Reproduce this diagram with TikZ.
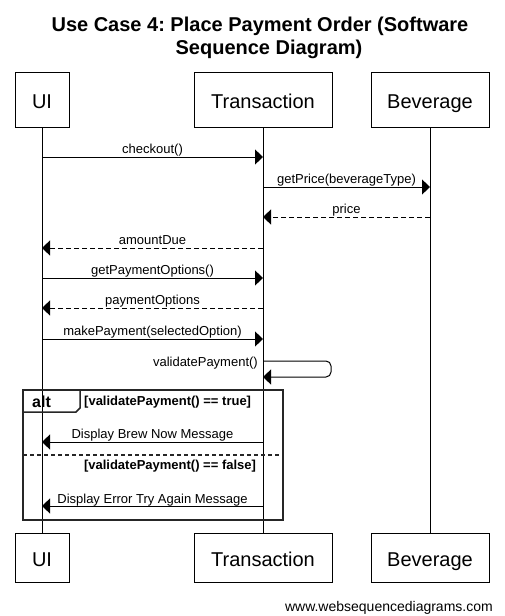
\documentclass[tikz,border=0pt]{standalone}
\usepackage{fontspec}
\setmainfont{Liberation Sans}
\usetikzlibrary{arrows.meta}
\frenchspacing
\begin{document}
\begin{tikzpicture}[x=1pt,y=-1pt,
  part/.style={draw, line width=1pt, inner sep=0pt, font=\fontsize{20}{24}\selectfont, text height=17pt, text depth=0pt},
  life/.style={line width=1pt},
  msg/.style={line width=1pt, -{Triangle[length=8pt,width=15pt]}},
  ret/.style={msg, dash pattern=on 5pt off 3pt},
  lbl/.style={font=\fontsize{13}{15}\selectfont, anchor=base, inner sep=0pt, yshift=4pt},
  guard/.style={font=\bfseries\fontsize{13}{15}\selectfont, inner sep=0pt},
  frame/.style={line width=1.5pt, draw=black!85},
  titlestyle/.style={font=\bfseries\fontsize{20}{24}\selectfont, anchor=base, inner sep=0pt}]
\useasboundingbox (0,0) rectangle (504,616);
\fill[white] (0,0) rectangle (504,616);

% title
\node[titlestyle] (t1) at (260,31) {Use Case 4: Place Payment Order (Software};
\node[titlestyle] (t2) at (269,54) {Sequence Diagram)};

% participants
\node[part, minimum width=54pt, minimum height=55pt] (uiT) at (42,99.5) {UI};
\node[part, minimum width=138pt, minimum height=55pt] (trT) at (263,99.5) {Transaction};
\node[part, minimum width=118pt, minimum height=55pt] (bvT) at (430,99.5) {Beverage};
\node[part, minimum width=54pt, minimum height=49pt] (uiB) at (42,557.5) {UI};
\node[part, minimum width=138pt, minimum height=49pt] (trB) at (263,557.5) {Transaction};
\node[part, minimum width=118pt, minimum height=49pt] (bvB) at (430,557.5) {Beverage};

% lifelines
\draw[life] (uiT.south) -- (uiB.north);
\draw[life] (trT.south) -- (trB.north);
\draw[life] (bvT.south) -- (bvB.north);

% messages
\draw[msg] (uiT |- 0,157) -- (trT |- 0,157) node[lbl, midway] {checkout()};
\draw[msg] (trT |- 0,187) -- (bvT |- 0,187) node[lbl, midway] {getPrice(beverageType)};
\draw[ret] (bvT |- 0,217) -- (trT |- 0,217) node[lbl, midway] {price};
\draw[ret] (trT |- 0,248) -- (uiT |- 0,248) node[lbl, midway] {amountDue};
\draw[msg] (uiT |- 0,278) -- (trT |- 0,278) node[lbl, midway] {getPaymentOptions()};
\draw[ret] (trT |- 0,308) -- (uiT |- 0,308) node[lbl, midway] {paymentOptions};
\draw[msg] (uiT |- 0,339) -- (trT |- 0,339) node[lbl, midway] {makePayment(selectedOption)};

% self message
\coordinate (s1) at (331,361);
\coordinate (s2) at (331,377);
\draw[msg, rounded corners=5pt] (trT |- s1) -- (s1) -- (s2) -- (trT |- s2);
\node[font=\fontsize{13}{15}\selectfont, anchor=base east, inner sep=0pt] (vp) at (258,366) {validatePayment()};

% alt frame
\draw[frame] (23,390) rectangle (283,520);
\draw[frame] (23,412) -- (76,412) -- (80,408) -- (80,390);
\node[font=\bfseries\fontsize{16}{18}\selectfont, anchor=base west, inner sep=0pt] (alt) at (32,407) {alt};
\node[guard, anchor=base west] (g1) at (84,405) {[validatePayment() == true]};
\draw[frame, dash pattern=on 4pt off 3pt] (23,455) -- (283,455);
\node[guard, anchor=base] (g2) at (170,469) {[validatePayment() == false]};

\draw[msg] (trT |- 0,442) -- (uiT |- 0,442) node[lbl, midway] {Display Brew Now Message};
\draw[msg] (trT |- 0,506) -- (uiT |- 0,506) node[lbl, midway, yshift=-1pt] {Display Error Try Again Message};

% footer
\node[font=\fontsize{14}{16}\selectfont, anchor=base east, inner sep=0pt] (web) at (493,611) {www.websequencediagrams.com};
\end{tikzpicture}
\end{document}
